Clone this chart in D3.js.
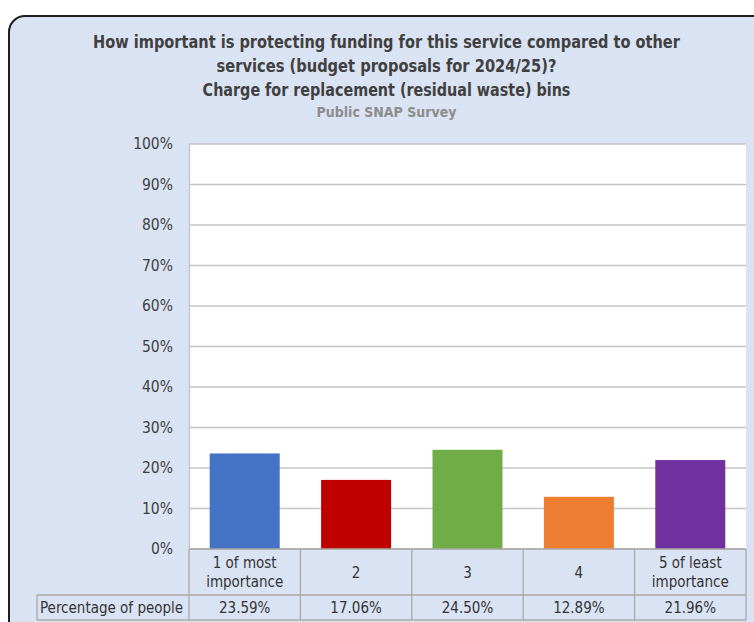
<!DOCTYPE html>
<html>
<head>
<meta charset="utf-8">
<script src="https://cdn.jsdelivr.net/npm/d3@7"></script>
<style>
html,body{margin:0;padding:0;background:#ffffff;}
svg{display:block;}
</style>
</head>
<body>
<svg id="chart" width="754" height="622"></svg>
<script>
const categories = [["1 of most","importance"],["2"],["3"],["4"],["5 of least","importance"]];
const values = [23.59, 17.06, 24.50, 12.89, 21.96];
const valueLabels = ["23.59%","17.06%","24.50%","12.89%","21.96%"];
const colors = ["#4472C4","#C00000","#70AD47","#ED7D31","#7030A0"];
const yTicks = [0,10,20,30,40,50,60,70,80,90,100];
const seriesName = "Percentage of people";
const titleLines = ["How important is protecting funding for this service compared to other",
  "services (budget proposals for 2024/25)?",
  "Charge for replacement (residual waste) bins"];
const subtitle = "Public SNAP Survey";

(function(){
const FONT = "'DejaVu Sans Condensed','DejaVu Sans',sans-serif";
const svg = d3.select("#chart");

// frame
svg.append("rect").attr("x",9).attr("y",16).attr("width",790).attr("height",640)
  .attr("rx",16).attr("ry",16).attr("fill","#DAE3F3").attr("stroke","#1e1e1e").attr("stroke-width",2);

// titles: fit each line to its width by horizontal scaling
const cx = 386.5;
function fitText(str, baseY, size, width, color){
  const t = svg.append("text").attr("x",0).attr("y",0).attr("text-anchor","middle")
    .attr("font-family",FONT).attr("font-weight","bold").attr("font-size",size)
    .attr("fill",color).text(str);
  const w = t.node().getComputedTextLength();
  const s = w > 0 ? width / w : 1;
  t.attr("transform",`translate(${cx},${baseY}) scale(${s},1)`);
}
const tBase = [48, 72, 96];
const tWidth = [587, 340, 368];
titleLines.forEach((t,i)=> fitText(t, tBase[i], 18.5, tWidth[i], "#404040"));
fitText(subtitle, 117, 14.5, 140, "#8c8c8c");

const pLeft = 189, pRight = 746, pTop = 144, pBottom = 549;
const x = d3.scaleBand().domain(d3.range(values.length)).range([pLeft,pRight]).paddingInner(0).paddingOuter(0);
const y = d3.scaleLinear().domain([0,100]).range([pBottom,pTop]);

// plot area
svg.append("rect").attr("x",pLeft).attr("y",pTop).attr("width",pRight-pLeft).attr("height",pBottom-pTop).attr("fill","#ffffff");

// gridlines
svg.append("g").selectAll("line").data(yTicks).join("line")
  .attr("x1",pLeft).attr("x2",pRight).attr("y1",d=>y(d)).attr("y2",d=>y(d))
  .attr("stroke","#c4c4c4").attr("stroke-width",1.3);

// y axis
const yAxis = d3.axisLeft(y).tickValues(yTicks).tickFormat(d=>d+"%").tickSize(0).tickPadding(16);
const ya = svg.append("g").attr("transform",`translate(${pLeft},0)`).call(yAxis);
ya.select(".domain").attr("stroke","#c4c4c4").attr("stroke-width",1.3);
ya.selectAll("text").attr("font-family",FONT).attr("font-size",15.5).attr("fill","#404040");

// bars
const bw = 70;
svg.append("g").selectAll("rect").data(values).join("rect")
  .attr("x",(d,i)=>x(i)+x.bandwidth()/2-bw/2).attr("width",bw)
  .attr("y",d=>y(d)).attr("height",d=>pBottom-y(d))
  .attr("fill",(d,i)=>colors[i]);

// data table
const tblLeft = 37, row1Bottom = 595, row2Bottom = 620;
const g = svg.append("g").attr("stroke","#a9a9a9").attr("stroke-width",1.3);
g.append("line").attr("x1",pLeft).attr("x2",pRight).attr("y1",pBottom).attr("y2",pBottom);
g.append("line").attr("x1",tblLeft).attr("x2",pRight).attr("y1",row1Bottom).attr("y2",row1Bottom);
g.append("line").attr("x1",tblLeft).attr("x2",pRight).attr("y1",row2Bottom).attr("y2",row2Bottom);
g.append("line").attr("x1",tblLeft).attr("x2",tblLeft).attr("y1",row1Bottom).attr("y2",row2Bottom);
const colEdges = d3.range(values.length+1).map(i=> i<values.length ? x(i) : pRight);
g.selectAll(".v").data(colEdges).join("line").attr("class","v")
  .attr("x1",d=>d).attr("x2",d=>d).attr("y1",pBottom).attr("y2",row2Bottom);

// category labels
categories.forEach((c,i)=>{
  const t = svg.append("text").attr("x",x(i)+x.bandwidth()/2).attr("text-anchor","middle")
    .attr("font-family",FONT).attr("font-size",15).attr("fill","#333333");
  const mid = (pBottom+row1Bottom)/2;
  const lh = 19;
  const y0 = mid - (c.length-1)*lh/2 + 5.5;
  c.forEach((line,j)=>{
    t.append("tspan").attr("x",x(i)+x.bandwidth()/2).attr("y",y0+j*lh).text(line);
  });
});
// values row
const rowMid = (row1Bottom+row2Bottom)/2 + 5.5;
svg.append("text").attr("x",tblLeft+3).attr("y",rowMid)
  .attr("font-family",FONT).attr("font-size",15).attr("fill","#333333").text(seriesName);
svg.append("g").selectAll("text").data(valueLabels).join("text")
  .attr("x",(d,i)=>x(i)+x.bandwidth()/2).attr("y",rowMid).attr("text-anchor","middle")
  .attr("font-family",FONT).attr("font-size",15).attr("fill","#333333").text(d=>d);
})();
</script>
</body>
</html>
